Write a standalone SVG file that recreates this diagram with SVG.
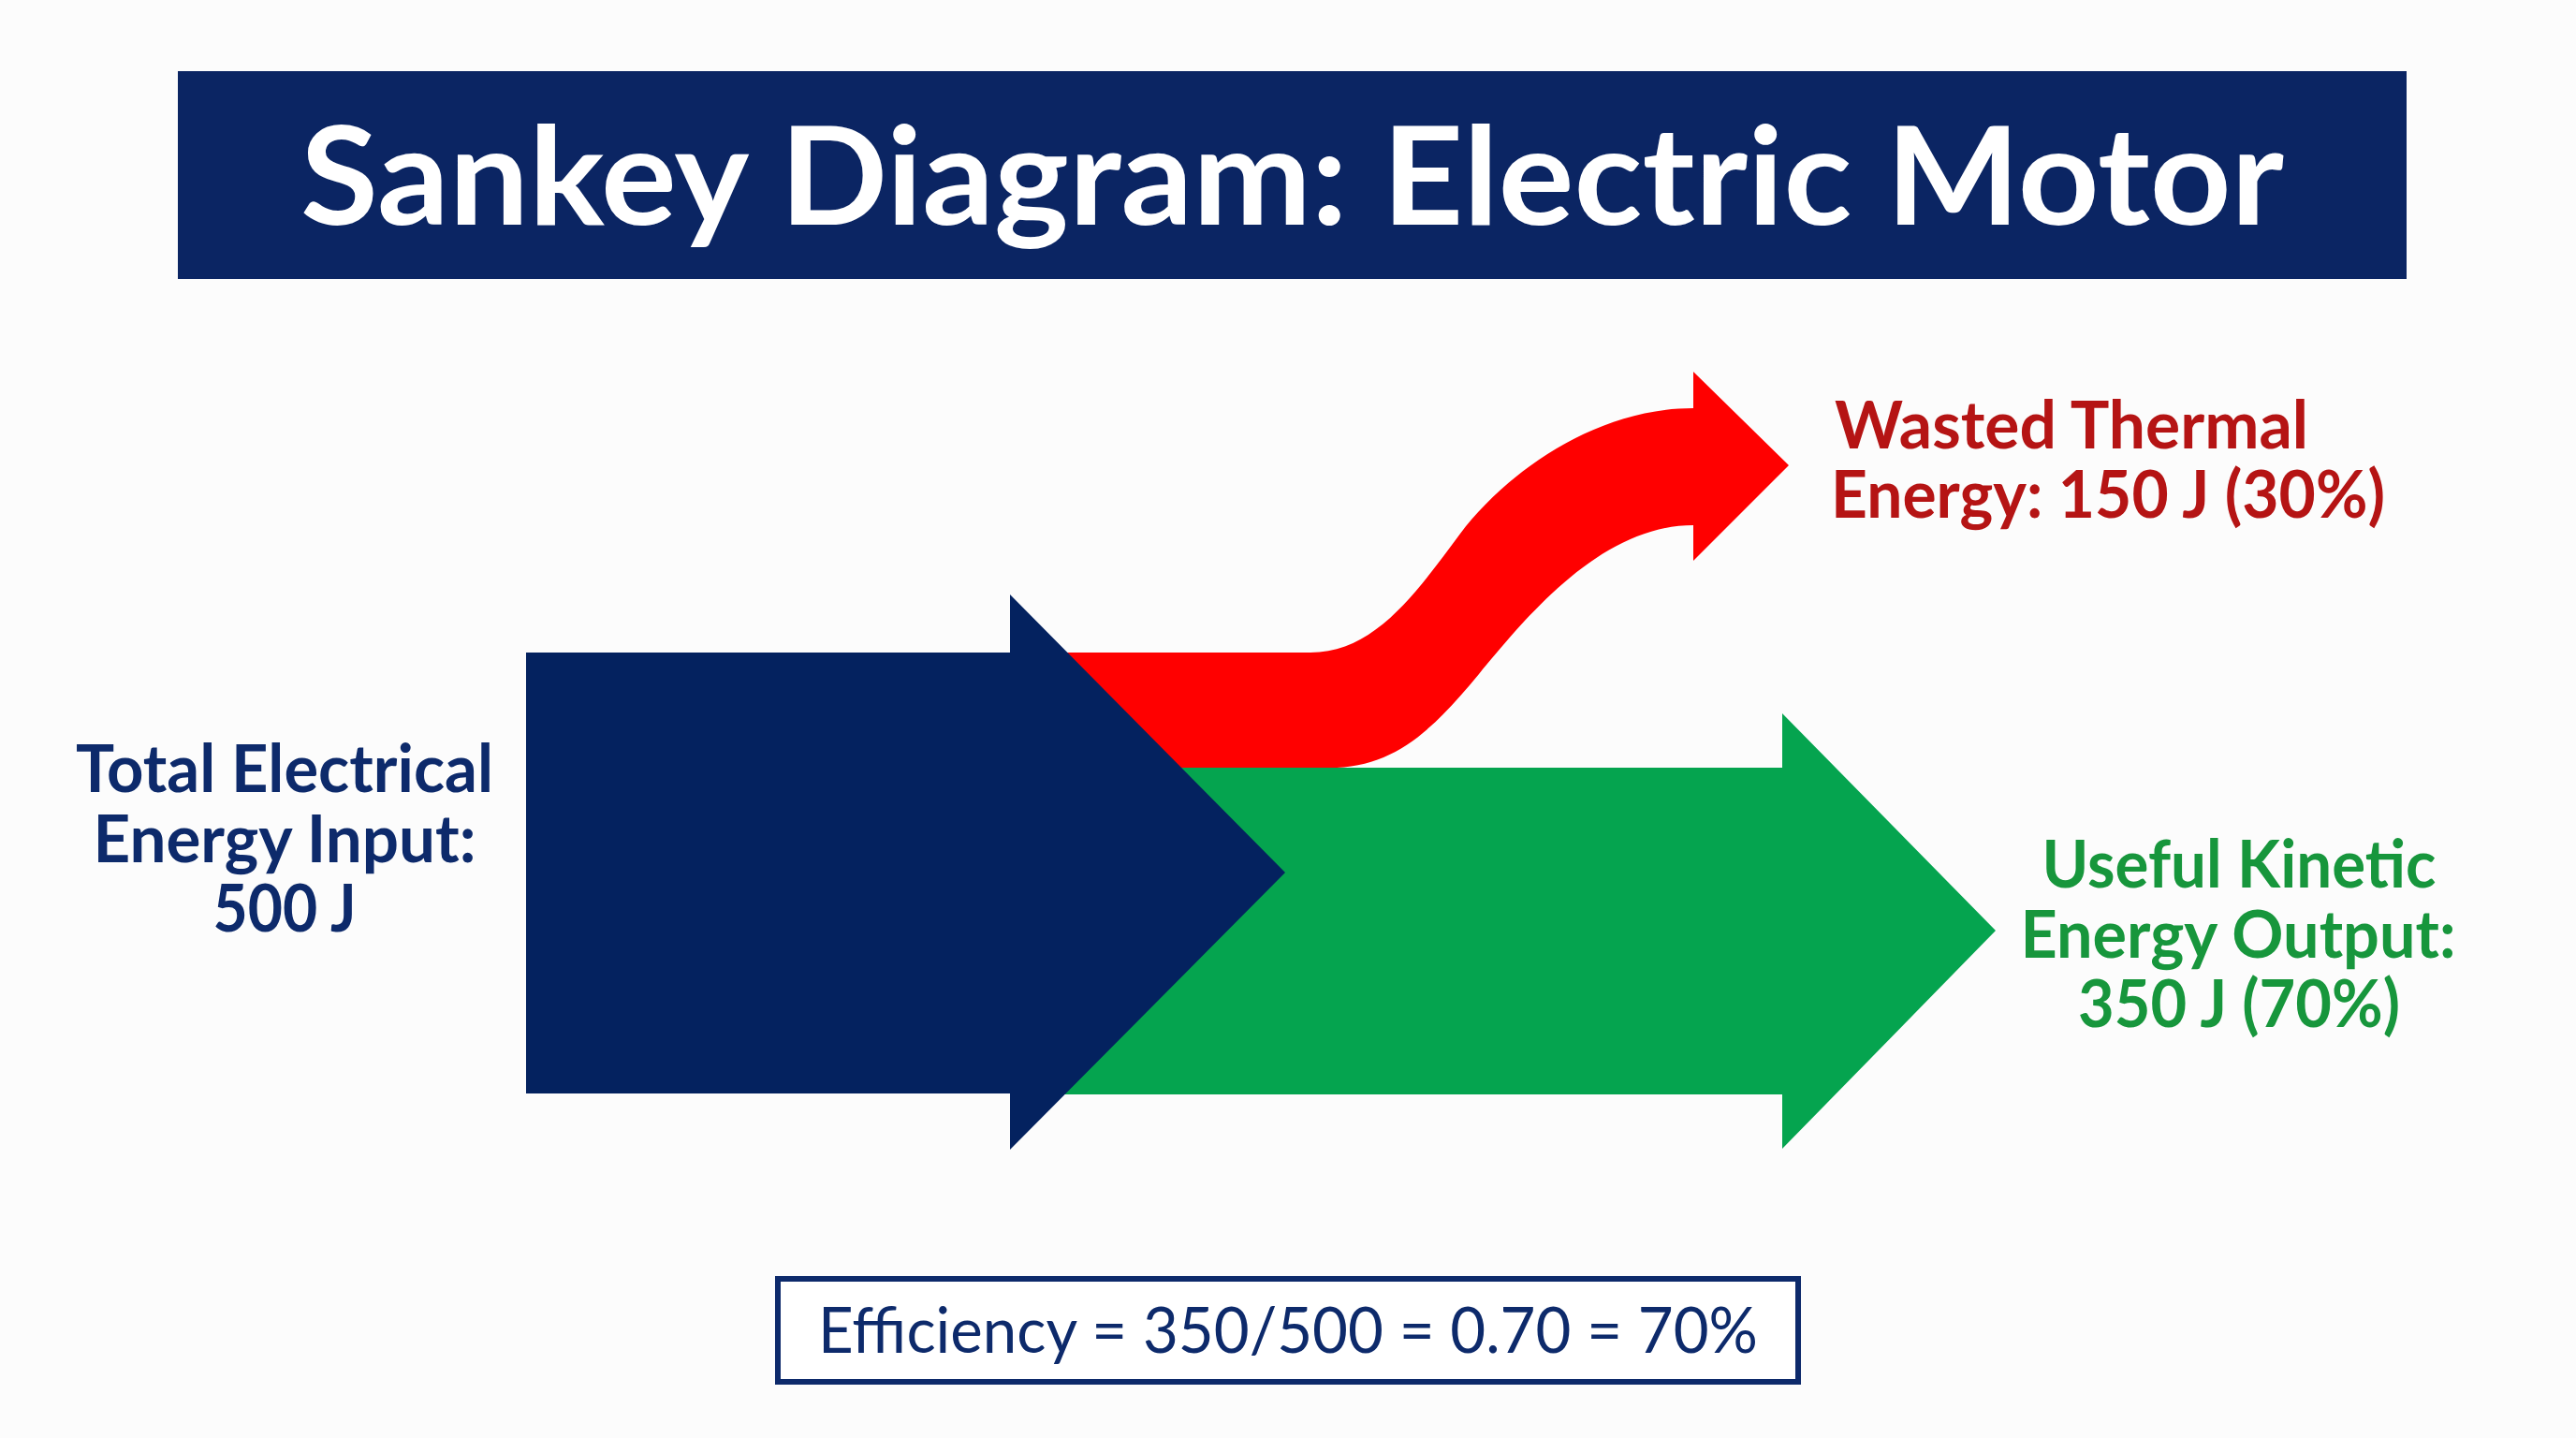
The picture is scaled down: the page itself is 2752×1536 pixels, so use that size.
<svg xmlns="http://www.w3.org/2000/svg" width="2752" height="1536" viewBox="0 0 2752 1536">
<style>
.lbl{font-family:Lato,"Open Sans","Liberation Sans",sans-serif;font-weight:700;font-size:70px;}
.ttl{font-family:Lato,"Open Sans","Liberation Sans",sans-serif;font-weight:700;font-size:146px;fill:#ffffff;}
.eff{font-family:Lato,"Open Sans","Liberation Sans",sans-serif;font-weight:400;font-size:68px;fill:#0d2a6b;}
.navy{fill:#0d2a6b;}
.red{fill:#b51414;}
.grn{fill:#17963c;}
</style>
<rect x="0" y="0" width="2752" height="1536" fill="#fcfcfc"/>
<g id="title">
<rect x="190" y="76" width="2381" height="222" fill="#0b2563"/>
<text class="ttl" x="321" y="240" textLength="2119" lengthAdjust="spacingAndGlyphs">Sankey Diagram: Electric Motor</text>
</g>
<g id="connectors">
<path id="flow-waste" d="M1100 697 L1400 697 C1470 697 1515 630 1560 570 S1700 436 1809 436 L1809 397 L1911 497 L1809 599 L1809 561 C1710 561 1630 660 1580 720 S1490 820 1420 820 L1100 820 Z" fill="#ff0000"/>
<polygon id="flow-useful" points="1100,820 1904,820 1904,762 2132,994 1904,1227 1904,1169 1100,1169" fill="#05a44f"/>
</g>
<g id="node-input">
<polygon points="562,697 1079,697 1079,635 1373,932 1079,1228 1079,1168 562,1168" fill="#04225f"/>
<text class="lbl navy" text-anchor="middle"><tspan x="304" y="846" textLength="446" lengthAdjust="spacingAndGlyphs">Total Electrical</tspan><tspan x="304" y="921" textLength="409" lengthAdjust="spacingAndGlyphs">Energy Input:</tspan><tspan x="304" y="995" textLength="153" lengthAdjust="spacingAndGlyphs">500 J</tspan></text>
</g>
<g id="node-waste">
<text class="lbl red"><tspan x="1960" y="479" textLength="506" lengthAdjust="spacingAndGlyphs">Wasted Thermal</tspan><tspan x="1956" y="553" textLength="592" lengthAdjust="spacingAndGlyphs">Energy: 150 J (30%)</tspan></text>
</g>
<g id="node-useful">
<text class="lbl grn" text-anchor="middle"><tspan x="2392" y="948" textLength="421" lengthAdjust="spacingAndGlyphs">Useful Kinetic</tspan><tspan x="2391" y="1023" textLength="465" lengthAdjust="spacingAndGlyphs">Energy Output:</tspan><tspan x="2392" y="1097" textLength="344" lengthAdjust="spacingAndGlyphs">350 J (70%)</tspan></text>
</g>
<g id="efficiency">
<rect x="831" y="1366" width="1090" height="110" fill="#ffffff" stroke="#0d2a6b" stroke-width="6"/>
<text class="eff" x="1376" y="1445" text-anchor="middle" textLength="1004" lengthAdjust="spacingAndGlyphs">Efficiency = 350/500 = 0.70 = 70%</text>
</g>
</svg>
